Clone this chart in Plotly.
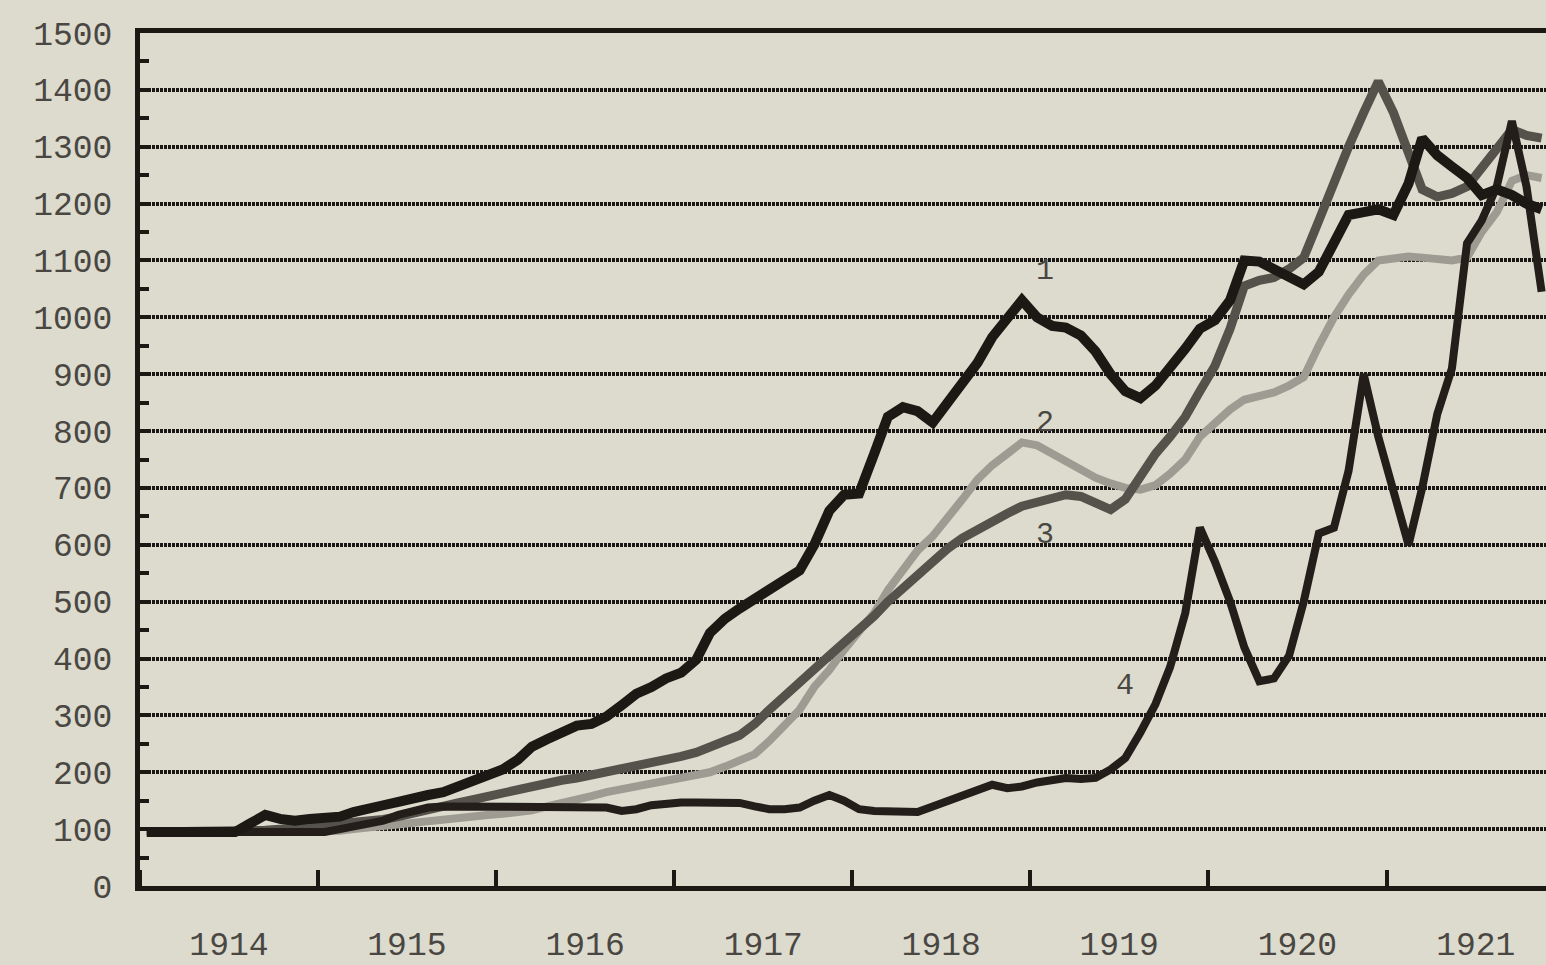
import plotly.graph_objects as go

# Monthly observations, Jan 1914 .. Nov 1921 (plotted mid-month)
months = [f"{1914 + i // 12}-{i % 12 + 1:02d}-15" for i in range(95)]

series_1 = [95, 95, 95, 95, 95, 95, 95,
            110, 125, 118, 115, 118, 120,
            122, 130, 138, 142, 148, 152, 160, 165, 175, 188, 198,
            205, 222, 245, 258, 268, 282, 285, 298, 318, 338, 350, 365,
            375, 398, 445, 470, 488, 505, 522, 535, 555, 600, 660, 688,
            690, 760, 825, 842, 835, 815, 848, 880, 920, 965, 995, 1030,
            1000, 985, 982, 968, 940, 900, 870, 858, 880, 910, 945, 980,
            995, 1030, 1100, 1098, 1085, 1070, 1058, 1080, 1130, 1180, 1185, 1190,
            1180, 1235, 1315, 1285, 1265, 1245, 1215, 1225, 1215, 1200, 1190]

series_2 = [95] * 13 + [
            97, 100, 103, 107, 110, 113, 116, 118, 120, 122, 125, 127,
            130, 133, 140, 145, 152, 158, 165, 170, 175, 180, 185, 190,
            195, 200, 210, 220, 232, 255, 285, 310, 350, 380, 415, 445,
            480, 520, 555, 590, 615, 645, 680, 715, 740, 760, 780, 775,
            760, 745, 730, 718, 708, 700, 697, 705, 725, 750, 790, 815,
            838, 855, 860, 868, 880, 895, 950, 1000, 1040, 1075, 1100, 1105,
            1107, 1105, 1103, 1100, 1105, 1150, 1185, 1240, 1250, 1245]

series_3 = [95] * 8 + [
            98, 100, 102, 104, 106, 108, 110, 113, 117, 122, 127, 133,
            140, 146, 152, 158, 163, 168, 173, 180, 186, 190, 195, 200,
            205, 210, 215, 222, 228, 235, 243, 255, 265, 285, 310, 335,
            360, 385, 405, 428, 450, 475, 500, 525, 548, 570, 593, 612,
            628, 640, 655, 668, 675, 683, 688, 685, 672, 662, 680, 720,
            760, 790, 825, 870, 915, 980, 1055, 1065, 1070, 1085, 1105, 1170,
            1240, 1300, 1360, 1415, 1360, 1290, 1225, 1212, 1218, 1230, 1262, 1300,
            1330, 1320, 1315]

series_4 = [95] * 13 + [
            100, 105, 110, 115, 125, 132, 138] + [140] * 11 + [
            138, 132, 135, 142, 146, 147, 147, 147, 147, 146, 140, 135,
            135, 138, 150, 160, 150, 135, 132, 131, 130, 130, 140, 150,
            158, 170, 178, 172, 175, 182, 188, 190, 188, 190, 205, 225,
            270, 320, 385, 480, 630, 570, 500, 420, 360, 365, 405, 500,
            620, 630, 730, 900, 790, 700, 600, 700, 830, 910, 1130, 1170,
            1230, 1345, 1230, 1045]

y_ticks = list(range(0, 1501, 100))

BG = "#dcdbce"
INK = "#1c1915"
TXT = "#4a4742"
FONT = "Liberation Mono, Courier New, monospace"

fig = go.Figure()

fig.add_trace(go.Scatter(x=months, y=series_2, mode="lines",
                         line=dict(color="#9e9b92", width=8), hoverinfo="skip"))
fig.add_trace(go.Scatter(x=months, y=series_3, mode="lines",
                         line=dict(color="#55514b", width=9), hoverinfo="skip"))
fig.add_trace(go.Scatter(x=months, y=series_4, mode="lines",
                         line=dict(color="#231e1a", width=8), hoverinfo="skip"))
fig.add_trace(go.Scatter(x=months, y=series_1, mode="lines",
                         line=dict(color=INK, width=10), hoverinfo="skip"))

labels = [("1", "1919-01-31", 1082), ("2", "1919-01-31", 815),
          ("3", "1919-01-31", 617), ("4", "1919-07-14", 351)]
for txt, lx, ly in labels:
    fig.add_annotation(x=lx, y=ly, text=txt, showarrow=False,
                       font=dict(family=FONT, size=30, color=TXT))

fig.update_layout(
    width=1546, height=965,
    margin=dict(l=140, r=0, t=33, b=70),
    paper_bgcolor=BG, plot_bgcolor=BG,
    showlegend=False,
    font=dict(family=FONT, size=33, color=TXT),
)

fig.update_xaxes(
    type="date",
    range=["1914-01-01", "1921-11-24"],
    tick0="1914-01-01", dtick="M12",
    tickformat="%Y", ticklabelmode="period",
    ticks="inside", ticklen=16, tickwidth=4, tickcolor=INK,
    ticklabelstandoff=24,
    showgrid=False, zeroline=False,
    showline=True, linecolor=INK, linewidth=5, mirror=True,
    tickfont=dict(family=FONT, size=33, color=TXT),
)

fig.update_yaxes(
    range=[0, 1500],
    tickvals=y_ticks, ticktext=[str(v) for v in y_ticks],
    ticks="inside", ticklen=9, tickwidth=4, tickcolor=INK,
    ticklabelstandoff=16,
    showgrid=True, gridcolor="#1a1714", gridwidth=4, griddash="3px,1px",
    minor=dict(dtick=50, tick0=0, ticks="inside", ticklen=9, tickwidth=4,
               tickcolor=INK, showgrid=False),
    zeroline=False,
    showline=True, linecolor=INK, linewidth=5,
    tickfont=dict(family=FONT, size=33, color=TXT),
)

fig.write_html(
    "out.html",
    config={"displayModeBar": False},
    post_script="document.body.style.margin='0';"
                "document.body.style.background='" + BG + "';",
)
